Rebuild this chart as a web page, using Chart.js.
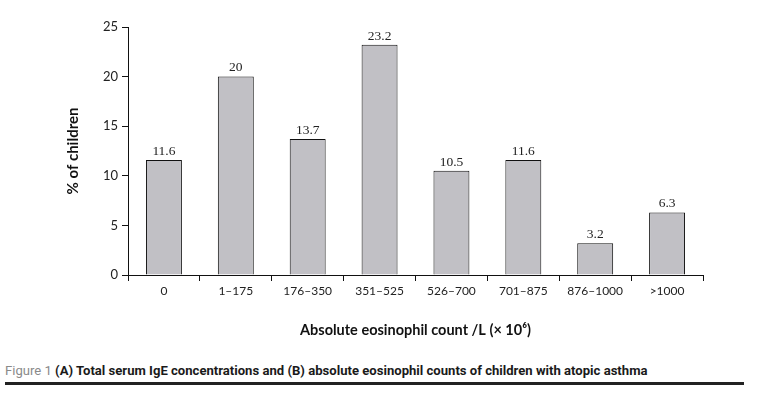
<!DOCTYPE html>
<html>
<head>
<meta charset="utf-8">
<script src="https://cdn.jsdelivr.net/npm/chart.js@4.4.1/dist/chart.umd.min.js"></script>
<style>
  html, body { margin: 0; padding: 0; background: #fff; }
  #wrap { position: relative; width: 766px; height: 403px; overflow: hidden; }
  #box { position: absolute; left: 0; top: 0; width: 766px; height: 345px; }
  #caption {
    position: absolute; left: 5px; top: 362px;
    font-family: 'Liberation Sans Narrow', 'Roboto', sans-serif;
    font-weight: bold; font-size: 13.5px; color: #1a1a1a; white-space: nowrap;
    transform: scaleX(0.97); transform-origin: left center;
  }
  #caption span { color: #8a8a8a; font-weight: normal; }
  #rule { position: absolute; left: 5px; top: 382px; width: 739px; height: 3px; background: #222; }
</style>
</head>
<body>
<div id="wrap">
  <div id="box"><canvas id="eosChart"></canvas></div>
  <div id="caption"><span>Figure 1</span> (A) Total serum IgE concentrations and (B) absolute eosinophil counts of children with atopic asthma</div>
  <div id="rule"></div>
</div>
<script>
// Data
const categories = ['0', '1–175', '176–350', '351–525', '526–700', '701–875', '876–1000', '>1000'];
const percentChildren = [11.6, 20, 13.7, 23.2, 10.5, 11.6, 3.2, 6.3];
const yTicks = [0, 5, 10, 15, 20, 25];

// Value labels above each bar
const valueLabels = {
    id: 'valueLabels',
    afterDatasetsDraw: function(chart) {
        const c = chart.ctx;
        const meta = chart.getDatasetMeta(0);
        c.save();
        c.font = '13.5px "Liberation Serif", serif';
        c.fillStyle = '#222';
        c.textAlign = 'center';
        c.textBaseline = 'bottom';
        meta.data.forEach(function(bar, i) {
            c.fillText(String(percentChildren[i]), bar.x, bar.y - 2);
        });
        c.restore();
    }
};

const ctx = document.getElementById('eosChart').getContext('2d');
const eosChart = new Chart(ctx, {
    type: 'bar',
    data: {
        labels: categories,
        datasets: [{
            data: percentChildren,
            backgroundColor: '#c1c0c5',
            borderColor: '#111',
            borderWidth: 1,
            categoryPercentage: 1,
            barPercentage: 0.5
        }]
    },
    options: {
        responsive: true,
        maintainAspectRatio: false,
        animation: false,
        layout: { padding: { left: 0, right: 63, top: 27, bottom: 0 } },
        plugins: { legend: { display: false }, tooltip: { enabled: false } },
        scales: {
            x: {
                offset: true,
                grid: { offset: true, drawOnChartArea: false, drawTicks: true, tickLength: 6, color: '#111' },
                border: { display: true, color: '#111', width: 1 },
                ticks: { color: '#222', padding: 3, font: { family: 'Lato', size: 12 }, maxRotation: 0 },
                title: {
                    display: true,
                    text: 'Absolute eosinophil count /L (× 10⁶)',
                    color: '#111',
                    font: { family: 'Lato', size: 14.5, weight: 'bold' },
                    padding: { top: 0, bottom: 6 }
                },
                afterFit: function(scale) { scale.height = 70; }
            },
            y: {
                min: 0,
                max: 25,
                afterBuildTicks: function(scale) {
                    scale.ticks = yTicks.map(function(v) { return { value: v }; });
                },
                grid: { drawOnChartArea: false, drawTicks: true, tickLength: 6, color: '#111' },
                border: { display: true, color: '#111', width: 1 },
                ticks: { color: '#222', padding: 4, font: { family: 'Lato', size: 13 } },
                title: {
                    display: true,
                    text: '% of children',
                    color: '#111',
                    font: { family: 'Lato', size: 15, weight: 'bold' },
                    padding: { top: 64, bottom: 0 }
                },
                afterFit: function(scale) { scale.width = 128; }
            }
        }
    },
    plugins: [valueLabels]
});
</script>
</body>
</html>
